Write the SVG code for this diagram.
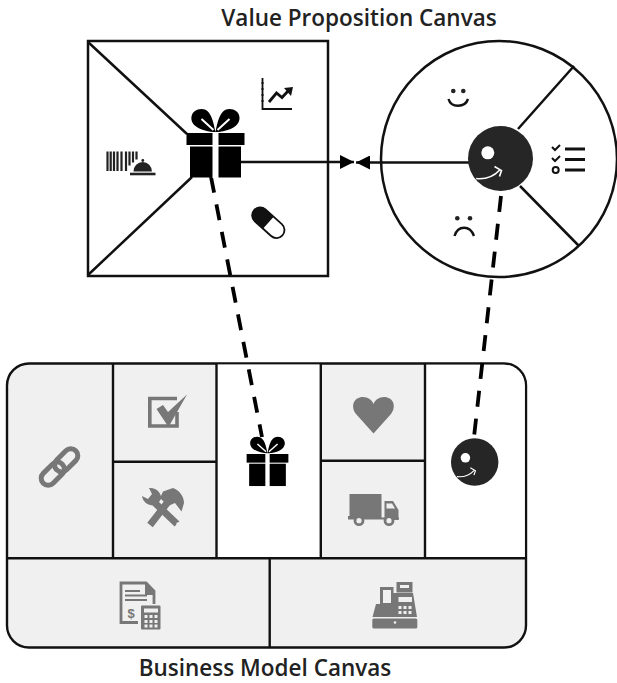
<svg xmlns="http://www.w3.org/2000/svg" xmlns:xlink="http://www.w3.org/1999/xlink" width="617" height="683" viewBox="0 0 617 683">
<style>
.title{font-family:"Open Sans","Liberation Sans",sans-serif;font-weight:600;font-size:22.5px;fill:#222;text-anchor:middle}
.ln{fill:none;stroke:#111;stroke-width:2.5}
.grid{fill:none;stroke:#111;stroke-width:2.4}
.dash{fill:none;stroke:#000;stroke-width:3.8;stroke-dasharray:16 12}
.g{fill:#777}
.gs{fill:none;stroke:#777}
.k{fill:none;stroke:#111}
</style>
<defs>
<marker id="arr" markerUnits="userSpaceOnUse" markerWidth="15" markerHeight="14" refX="14" refY="7" orient="auto"><path d="M0,0L14,7L0,14Z" fill="#000"/></marker>
<g id="gift">
<path d="M0,-1C-2,-10-4,-24-14,-24C-25,-24-27,-12-20,-7C-15,-3-6,-1 0,-1C6,-1 15,-3 20,-7C27,-12 25,-24 14,-24C4,-24 2,-10 0,-1Z" fill="#000"/>
<path d="M-2,-3L-14,-14M2,-3L14,-14" stroke="#fff" stroke-width="2" fill="none"/>
<rect x="-29" y="0" width="58" height="12" fill="#000"/>
<rect x="-25.5" y="13.5" width="51" height="31" fill="#000"/>
<rect x="-3" y="0" width="6" height="45" fill="#fff"/>
</g>
<g id="face">
<circle r="32.5" fill="#262626"/>
<circle cx="-12.7" cy="-5.7" r="6.5" fill="#fff"/>
<path d="M-24.3,20C-15,21-7,18-1,11.7M-6,8L1,12L-1,18" fill="none" stroke="#fff" stroke-width="1.6"/>
</g>
</defs>

<g id="vp-title"><text class="title" x="359" y="26">Value Proposition Canvas</text></g>
<g id="bm-title"><text class="title" x="265" y="676">Business Model Canvas</text></g>

<g id="value-map">
<rect class="ln" x="88" y="41" width="240" height="235" fill="#fff"/>
<path class="ln" d="M88,42L187,134M88,275L192,177"/>
<g id="icon-chart">
<path class="k" stroke-width="1.8" d="M262.5,78V109H292"/>
<path d="M261,83h3M261,89h3M261,95h3M261,101h3" stroke="#111" stroke-width="1" fill="none"/>
<path class="k" stroke-width="2.8" d="M269,102L276.5,93L282,97.5L289,90"/>
<path d="M284,88L293,87L291,96Z" fill="#111"/>
</g>
<g id="icon-barcode">
<path d="M107.5,151.5v19.5M110.7,151.5v19.5M114,151.5v19.5M117.5,151.5v19.5M121.5,151.5v19.5M126,151.5v19.5M129.5,151.5v14M133,151.5v11M136.5,151.5v8" stroke="#222" stroke-width="2.2" fill="none"/>
<path d="M133.5,171.5a9.2,9.5 0 0 1 18.4,0Z" fill="#222"/>
<circle cx="142.8" cy="160.5" r="1.4" fill="#222"/>
<path d="M130,174H155.5" stroke="#222" stroke-width="2.6"/>
</g>
<g id="icon-pill" transform="translate(268.3,222.7) rotate(42)">
<rect x="-19" y="-8" width="38" height="16" rx="8" fill="#fff" stroke="#111" stroke-width="1.8"/>
<path d="M0,-8H-11a8,8 0 0 0 0,16H0Z" fill="#111"/>
</g>
</g>

<g id="customer-profile">
<circle class="ln" cx="499" cy="159" r="118" fill="#fff"/>
<path class="ln" d="M518,129L574,66M520,186L579,246"/>
<g id="icon-smile">
<circle cx="453.3" cy="91" r="2.3" fill="#222"/><circle cx="463.3" cy="91" r="2.3" fill="#222"/>
<path class="k" stroke-width="2.4" d="M448.5,99C451,108 465,108 468,99"/>
</g>
<g id="icon-frown">
<circle cx="457.3" cy="218.3" r="2.3" fill="#222"/><circle cx="470" cy="218.3" r="2.3" fill="#222"/>
<path class="k" stroke-width="2.4" d="M454.5,236C458,225 470,225 474,236"/>
</g>
<g id="icon-checklist">
<path class="k" stroke-width="2.8" d="M565,149H585M565,159.5H585M565,170H585"/>
<path class="k" stroke-width="2" d="M552,147L555,150L560,145M552,158L555,161L560,156"/>
<circle class="k" stroke-width="2" cx="555.7" cy="170" r="3"/>
</g>
</g>

<g id="bmc">
<rect x="7" y="363.5" width="519" height="284" rx="22" fill="#f0f0f0" stroke="#111" stroke-width="2.4"/>
<rect x="216.5" y="364.5" width="104.5" height="193" fill="#fff"/>
<path d="M425,364.7H504A21,21 0 0 1 524.8,385.5V557.5H425Z" fill="#fff"/>
<path class="grid" d="M113,363.5V558M216.5,363.5V558M320.8,363.5V558M425,363.5V558M7,558.3H526M113,461.7H216.5M320.8,460.7H425M269.7,558.3V647.5"/>
<g id="icon-link" transform="translate(59.5,467) rotate(-45)">
<rect class="gs" stroke-width="5" x="-23" y="-7" width="27" height="14" rx="7"/>
<rect class="gs" stroke-width="5" x="-4" y="-7" width="27" height="14" rx="7"/>
</g>
<g id="icon-check">
<path class="gs" stroke-width="3.6" d="M177,398.5H149.8V426H177V412"/>
<path class="g" d="M156.5,409L163,405L168,412L187,394.5L168.5,427Z"/>
</g>
<g id="icon-tools">
<path class="gs" stroke-width="7" d="M150,525L171,498"/>
<path class="g" d="M163,491.5L173,488C179,490 184,496 184,503L181.5,511.5L175,503L168,506L160,498Z"/>
<path class="gs" stroke-width="7" d="M155,503L177,524"/>
<path class="g" d="M142,496L148,499L152,494L149,488C156,487 162,493 161,499L157,505C150,507 143,503 142,496Z"/>
<circle cx="178" cy="524" r="1.7" fill="#f0f0f0"/>
</g>
<g id="icon-heart">
<path class="g" d="M373.5,433.5L356,414C350,406 354,397 363,397C368,397 372,400 373.5,404C375,400 379,397 384,397C393,397 397,406 391,414Z"/>
</g>
<g id="icon-truck">
<path class="g" d="M349.5,494H381.5V518.5H348V516H349.5Z"/>
<path class="g" d="M384.5,501H393L398.5,510V520H384.5Z"/>
<path d="M386.5,503.5H392L395,508.5H386.5Z" fill="#f0f0f0"/>
<path d="M348,518.5H399" stroke="#777" stroke-width="2"/>
<circle cx="359" cy="520.7" r="4" fill="#f0f0f0" stroke="#777" stroke-width="2.8"/>
<circle cx="389" cy="520.7" r="4" fill="#f0f0f0" stroke="#777" stroke-width="2.8"/>
</g>
<g id="icon-doc">
<path class="gs" stroke-width="2.8" d="M138,622.5H121V583H146L154,591V604"/>
<path class="g" d="M145,583L154,591V595H145Z"/>
<path class="gs" stroke-width="1.8" d="M125,591H140M125,595.5H147M125,600H147"/>
<text x="131" y="618" font-family="'Liberation Sans',sans-serif" font-weight="700" font-size="13" fill="#777" text-anchor="middle">$</text>
<rect class="g" x="141" y="605.5" width="19.5" height="24" rx="1"/>
<path d="M144,608.5H158V612.5H144ZM144.5,615h3v3h-3ZM149.5,615h3v3h-3ZM154.5,615h3v3h-3ZM144.5,620h3v3h-3ZM149.5,620h3v3h-3ZM154.5,620h3v3h-3ZM144.5,624.5h3v3h-3ZM149.5,624.5h3v3h-3ZM154.5,624.5h3v3h-3Z" fill="#f0f0f0"/>
</g>
<g id="icon-register">
<path class="g" d="M396.5,582H412.5V592.5H396.5Z"/>
<path d="M400,585H409V588H400Z" fill="#f0f0f0"/>
<path class="g" d="M380,587H393.5V593H413L417,617H372.5L376,604H380Z"/>
<path d="M383,590H391V603H383ZM398.5,597H412V602H398.5Z" fill="#f0f0f0"/>
<path d="M398.5,606h3v3h-3ZM403.5,606h3v3h-3ZM408.5,606h3v3h-3ZM398.5,611h3v3h-3ZM403.5,611h3v3h-3ZM408.5,611h3v3h-3Z" fill="#f0f0f0"/>
<rect class="g" x="372.3" y="618.5" width="45" height="10" rx="1.5"/>
<circle cx="395" cy="622.5" r="1.3" fill="#f0f0f0"/>
</g>
</g>

<g id="connectors">
<path class="ln" marker-end="url(#arr)" d="M241,162H354"/>
<path class="ln" marker-end="url(#arr)" d="M469,162.5H356"/>
<path class="dash" d="M211,177L262,437"/>
<path class="dash" d="M501,196L474,437"/>
</g>

<g id="gift-large"><use xlink:href="#gift" href="#gift" transform="translate(215.5,133)"/></g>
<g id="customer-large"><use xlink:href="#face" href="#face" transform="translate(500.5,158.5)"/></g>
<g id="gift-small"><use xlink:href="#gift" href="#gift" transform="translate(267.5,454) scale(.72)"/></g>
<g id="customer-small"><use xlink:href="#face" href="#face" transform="translate(474.7,462) scale(.73)"/></g>
</svg>
